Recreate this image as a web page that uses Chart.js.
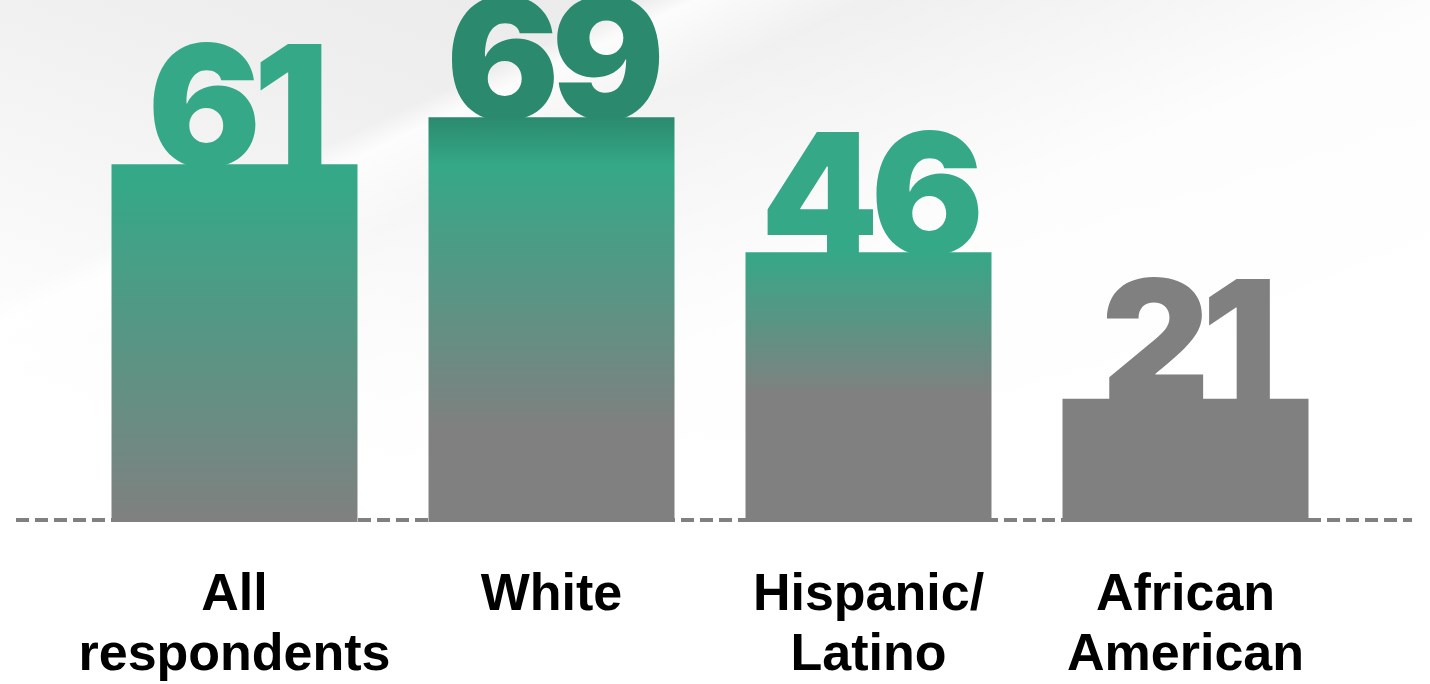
<!DOCTYPE html>
<html>
<head>
<meta charset="utf-8">
<script src="https://cdn.jsdelivr.net/npm/chart.js@4"></script>
<style>
  html, body { margin: 0; padding: 0; }
  body {
    width: 1430px; height: 684px; overflow: hidden;
    background:
      linear-gradient(155deg, rgba(255,255,255,0) 0%, rgba(255,255,255,0) 22%, rgba(255,255,255,0.85) 24%, rgba(255,255,255,0.3) 30%, rgba(255,255,255,0.9) 50%, #ffffff 72%),
      linear-gradient(200deg, #e4e4e4 0%, #efefef 40%, #ffffff 75%);
  }
  #wrap { position: relative; width: 1430px; height: 684px; }
</style>
</head>
<body>
<div id="wrap"><canvas id="chart"></canvas></div>
<script>
const categories = [['All', 'respondents'], ['White'], ['Hispanic/', 'Latino'], ['African', 'American']];
const values = [61, 69, 46, 21];
const valueLabels = ['61', '69', '46', '21'];

const green = '#35a887';
const darkGreen = '#2b8a6e';
const gray = '#808080';

// per-bar gradient stops (fraction of bar height from top)
const barStops = [
    [[0, green], [0.05, green], [1, gray]],
    [[0, darkGreen], [0.12, green], [0.77, gray], [1, gray]],
    [[0, green], [0.53, gray], [1, gray]],
    [[0, gray], [1, gray]]
];
const labelColors = [green, darkGreen, green, gray];

function barFill(ctx) {
    const chart = ctx.chart;
    if (!chart.chartArea || !chart.scales.y) return gray;
    const y = chart.scales.y;
    const top = y.getPixelForValue(values[ctx.dataIndex]);
    const base = y.getPixelForValue(0);
    const g = chart.ctx.createLinearGradient(0, top, 0, base);
    barStops[ctx.dataIndex].forEach(s => g.addColorStop(s[0], s[1]));
    return g;
}

// dashed baseline across the page
const baselinePlugin = {
    id: 'baseline',
    beforeDatasetsDraw(chart) {
        const c = chart.ctx;
        const y = chart.scales.y.getPixelForValue(0) - 2;
        c.save();
        c.strokeStyle = gray;
        c.lineWidth = 4;
        c.setLineDash([13, 6]);
        c.beginPath();
        c.moveTo(16, y);
        c.lineTo(1412, y);
        c.stroke();
        c.restore();
    }
};

// big numbers sitting on top of bars
const numberPlugin = {
    id: 'numbers',
    beforeDatasetsDraw(chart) {
        const c = chart.ctx;
        const meta = chart.getDatasetMeta(0);
        c.save();
        c.font = '900 168px Inter, Lato, "Noto Sans", sans-serif';
        c.textAlign = 'center';
        c.textBaseline = 'alphabetic';
        c.letterSpacing = '-8px';
        meta.data.forEach((bar, i) => {
            c.fillStyle = labelColors[i];
            c.fillText(valueLabels[i], bar.x, bar.y + 2);
        });
        c.restore();
    }
};

new Chart(document.getElementById('chart'), {
    type: 'bar',
    data: {
        labels: categories,
        datasets: [{
            data: values,
            backgroundColor: barFill,
            borderWidth: 0,
            barPercentage: 0.776,
            categoryPercentage: 1
        }]
    },
    options: {
        responsive: true,
        maintainAspectRatio: false,
        animation: false,
        layout: { padding: { left: 76, right: 86, top: 0, bottom: 0 } },
        plugins: { legend: { display: false }, tooltip: { enabled: false } },
        scales: {
            x: {
                grid: { display: false, drawTicks: false },
                border: { display: false },
                afterFit(scale) { scale.height = 162; },
                ticks: {
                    color: '#000',
                    padding: 44,
                    maxRotation: 0,
                    autoSkip: false,
                    font: { family: '"Liberation Sans", Arial, sans-serif', size: 52, weight: 'bold', lineHeight: 1.15 }
                }
            },
            y: {
                display: false,
                min: 0,
                max: 89
            }
        }
    },
    plugins: [baselinePlugin, numberPlugin]
});
</script>
</body>
</html>
